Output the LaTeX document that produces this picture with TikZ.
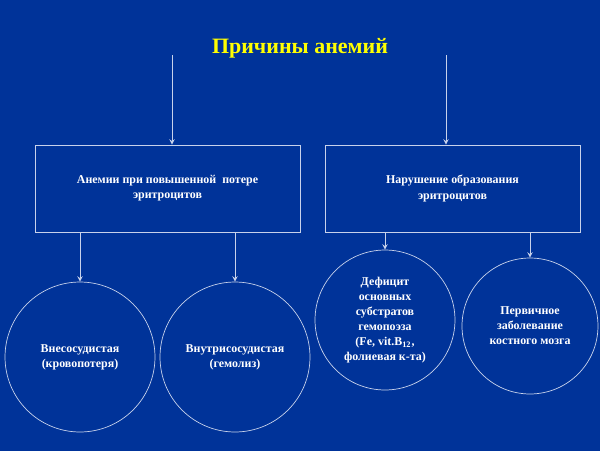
\documentclass[tikz,border=0pt]{standalone}
\usepackage{fontspec}
\setmainfont{Liberation Serif}
\usepackage{tikz}
\definecolor{slideblue}{RGB}{0, 51, 153}
\definecolor{titleyellow}{RGB}{255, 255, 0}
\definecolor{linegray}{RGB}{200, 210, 235}
\usetikzlibrary{arrows, positioning}

\begin{document}
\begin{tikzpicture}[
        x=0.02cm, y=-0.02cm,
        every node/.style={font=\bfseries\fontsize{6.8}{8.6}\selectfont, text=white, align=center},
        box/.style={rectangle, draw=linegray, minimum width=5.3cm, minimum height=1.74cm},
        rbox/.style={box, minimum width=5.1cm},
        cause/.style={circle, draw=linegray, inner sep=0pt},
        arrow/.style={->,>=stealth,color=linegray}
    ]
        \fill[slideblue] (0,0) rectangle (600,451);

        \node[font=\bfseries\fontsize{12.5}{14}\selectfont, text=titleyellow] (title) at (300,48) {Причины анемий};
        \coordinate (lstart) at (172,55);
        \coordinate (rstart) at (446,55);

        \node[box] (loss) at (167.5,188.5) {Анемии при повышенной~ потере\\эритроцитов};
        \node[rbox] (form) at (452.5,188.5) {Нарушение образования\\эритроцитов};

        \node[cause, minimum size=3cm] (extra) at (80,357) {Внесосудистая\\(кровопотеря)};
        \node[cause, minimum size=3cm] (intra) at (235,357) {Внутрисосудистая\\(гемолиз)};
        \node[cause, minimum size=2.8cm] (deficit) at (385,320) {Дефицит\\основных\\субстратов\\гемопоэза\\(Fe, vit.B\textsubscript{12},\\фолиевая к-та)};
        \node[cause, minimum size=2.72cm] (marrow) at (530,326) {Первичное\\заболевание\\костного мозга};

        \draw[arrow] (lstart) -- (lstart |- loss.north);
        \draw[arrow] (rstart) -- (rstart |- form.north);
        \draw[arrow] (loss.south -| extra) -- (extra.north);
        \draw[arrow] (loss.south -| intra) -- (intra.north);
        \draw[arrow] (form.south -| deficit) -- (deficit.north);
        \draw[arrow] (form.south -| marrow) -- (marrow.north);

    \end{tikzpicture}
\end{document}
